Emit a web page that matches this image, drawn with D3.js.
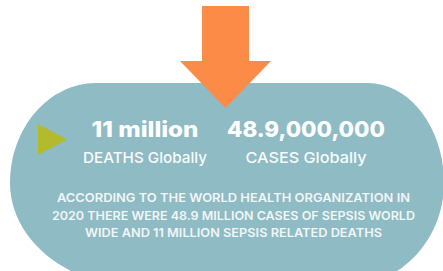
<!DOCTYPE html>
<html>
<head>
<meta charset="utf-8">
<script src="https://cdn.jsdelivr.net/npm/d3@7"></script>
<style>
  html, body { margin: 0; padding: 0; background: #fff; overflow: hidden; }
  text { font-family: "Inter", "Lato", sans-serif; fill: #fff; }
</style>
</head>
<body>
<svg id="chart" width="443" height="271"></svg>
<script>
// stat figures and their captions
const statValues = ["11 million", "48.9,000,000"];
const statLabels = ["DEATHS Globally", "CASES Globally"];
// width each figure/caption takes in the picture (px)
const valueWidths = [107, 158];
const labelWidths = [124, 121];
const noteLines = [
  "ACCORDING TO THE WORLD HEALTH ORGANIZATION IN",
  "2020 THERE WERE 48.9 MILLION CASES OF SEPSIS WORLD",
  "WIDE AND 11 MILLION SEPSIS RELATED DEATHS"
];
const noteWidths = [353, 363, 297];

const svg = d3.select("#chart");

// blob background: box with different corner radii on each corner
const box = {x0: 10, x1: 444, y0: 83, ymid: 183, y1: 287};
const corner = {tl: 86, tr: 76, br: 100, bl: 130};
const k = 0.55;
const blob = d3.path();
blob.moveTo(box.x0 + corner.tl, box.y0);
blob.lineTo(box.x1 - corner.tr, box.y0);
blob.bezierCurveTo(box.x1 - corner.tr * (1 - k), box.y0, box.x1, box.ymid - (box.ymid - box.y0) * k, box.x1, box.ymid);
blob.bezierCurveTo(box.x1, box.ymid + (box.y1 - box.ymid) * k, box.x1 - corner.br * (1 - k), box.y1, box.x1 - corner.br, box.y1);
blob.lineTo(box.x0 + corner.bl, box.y1);
blob.bezierCurveTo(box.x0 + corner.bl * (1 - k), box.y1, box.x0, box.ymid + (box.y1 - box.ymid) * k, box.x0, box.ymid);
blob.bezierCurveTo(box.x0, box.ymid - (box.ymid - box.y0) * k, box.x0 + corner.tl * (1 - k), box.y0, box.x0 + corner.tl, box.y0);
blob.closePath();

svg.append("path")
  .attr("d", blob.toString())
  .style("fill", "#8fbbc4");

// orange arrow pointing down into the blob
const arrow = {cx: 225.5, top: 6, neck: 61, tip: 108, shaft: 23.5, head: 45.5};
const arrowPts = [
  [arrow.cx - arrow.shaft, arrow.top],
  [arrow.cx + arrow.shaft, arrow.top],
  [arrow.cx + arrow.shaft, arrow.neck],
  [arrow.cx + arrow.head, arrow.neck],
  [arrow.cx, arrow.tip],
  [arrow.cx - arrow.head, arrow.neck],
  [arrow.cx - arrow.shaft, arrow.neck]
];
svg.append("path")
  .attr("d", d3.line()(arrowPts) + "Z")
  .style("fill", "#fd8b48");

// green play triangle
svg.append("path")
  .attr("d", d3.line()([[38, 124], [67, 139.5], [38, 155]]) + "Z")
  .style("fill", "#b3ba2b");

// column positions for the two stats
const xCol = d3.scalePoint().domain(statValues).range([145, 306]);

svg.selectAll(".value")
  .data(statValues)
  .enter()
  .append("text")
  .attr("class", "value")
  .attr("x", d => xCol(d))
  .attr("y", 137)
  .attr("text-anchor", "middle")
  .attr("textLength", (d, i) => valueWidths[i])
  .attr("lengthAdjust", "spacingAndGlyphs")
  .style("font-size", "22px")
  .style("font-weight", 800)
  .text(d => d);

svg.selectAll(".label")
  .data(statLabels)
  .enter()
  .append("text")
  .attr("class", "label")
  .attr("x", (d, i) => xCol(statValues[i]))
  .attr("y", 163)
  .attr("text-anchor", "middle")
  .attr("textLength", (d, i) => labelWidths[i])
  .attr("lengthAdjust", "spacingAndGlyphs")
  .style("font-size", "15px")
  .style("font-weight", 500)
  .style("opacity", 0.95)
  .text(d => d);

// note paragraph
const yLine = d3.scalePoint().domain(d3.range(noteLines.length)).range([202, 237]);
svg.selectAll(".note")
  .data(noteLines)
  .enter()
  .append("text")
  .attr("class", "note")
  .attr("x", 233.5)
  .attr("y", (d, i) => yLine(i))
  .attr("text-anchor", "middle")
  .attr("textLength", (d, i) => noteWidths[i])
  .attr("lengthAdjust", "spacingAndGlyphs")
  .style("font-size", "12px")
  .style("font-weight", 600)
  .style("opacity", 0.88)
  .text(d => d);
</script>
</body>
</html>
